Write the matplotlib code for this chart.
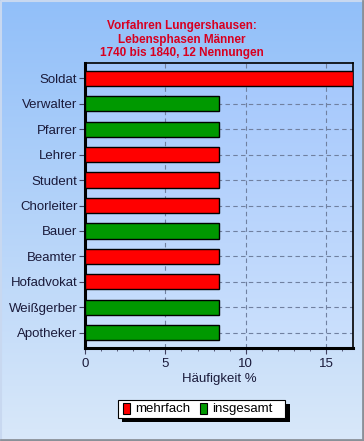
import numpy as np
import matplotlib.pyplot as plt
from matplotlib.patches import Rectangle

# Data
berufe = ['Soldat', 'Verwalter', 'Pfarrer', 'Lehrer', 'Student', 'Chorleiter',
          'Bauer', 'Beamter', 'Hofadvokat', 'Weißgerber', 'Apotheker']
haeufigkeit = [16.67, 8.33, 8.33, 8.33, 8.33, 8.33, 8.33, 8.33, 8.33, 8.33, 8.33]
art = ['mehrfach', 'insgesamt', 'insgesamt', 'mehrfach', 'mehrfach', 'mehrfach',
       'insgesamt', 'mehrfach', 'mehrfach', 'insgesamt', 'insgesamt']
farben = {'mehrfach': '#ff0000', 'insgesamt': '#009900'}

fig = plt.figure(figsize=(3.64, 4.41), dpi=100)

# background gradient over the whole figure
bg = fig.add_axes([0, 0, 1, 1], zorder=-10)
grad = np.linspace(0, 1, 256).reshape(-1, 1)
top = np.array([0.57, 0.75, 0.98])
bot = np.array([0.85, 0.91, 0.98])
img = top + (bot - top) * grad[:, :, None] * np.ones((1, 2, 1))
bg.imshow(img, aspect='auto', extent=[0, 1, 0, 1], origin='upper')
# 3d style border: light top/left, grey bottom/right
bg.plot([0.003, 0.003, 0.997], [0.003, 0.997, 0.997], color='#c8d8f0', lw=1.5,
        transform=bg.transAxes)
bg.plot([0.003, 0.997, 0.997], [0.003, 0.003, 0.997], color='#8a9098', lw=2,
        transform=bg.transAxes)
bg.set_xlim(0, 1)
bg.set_ylim(0, 1)
bg.axis('off')

ax = fig.add_axes([85 / 364, 1 - 348 / 441, (353 - 85) / 364, (348 - 63) / 441])
ax.patch.set_alpha(0)
pgrad = np.linspace(0, 1, 256).reshape(-1, 1)
ptop = np.array([0.64, 0.78, 0.99])
pbot = np.array([0.80, 0.88, 0.99])
pimg = ptop + (pbot - ptop) * pgrad[:, :, None] * np.ones((1, 2, 1))
ax.imshow(pimg, aspect='auto', extent=[0, 16.67, -0.6, len(berufe) - 0.4],
          origin='upper', zorder=0)

y = np.arange(len(berufe))[::-1]
ax.barh(y, haeufigkeit, height=0.6, color=[farben[a] for a in art],
        edgecolor='black', linewidth=1, zorder=3)

ax.set_xlim(0, 16.67)
ax.set_ylim(-0.6, len(berufe) - 0.4)
ax.set_yticks(y)
ax.set_yticklabels(berufe, fontsize=9.5, color='#1a1a3a', fontfamily='Liberation Sans')
ax.set_xticks([0, 5, 10, 15])
ax.set_xticks(np.arange(0, 17, 1), minor=True)
ax.set_xticklabels(['0', '5', '10', '15'], fontsize=9.5, color='#1a1a3a',
                   fontfamily='Liberation Sans')
ax.tick_params(axis='y', length=4, pad=1.5, color='#404060')
ax.tick_params(axis='x', which='major', length=4, color='#404060')
ax.tick_params(axis='x', which='minor', length=2, color='#404060')
ax.grid(True, axis='both', linestyle=(0, (4, 3)), color='#7080a0', linewidth=0.8, zorder=1)
ax.set_axisbelow(True)
for s in ax.spines.values():
    s.set_linewidth(1.2)
ax.spines['left'].set_linewidth(2.2)
ax.spines['bottom'].set_linewidth(2.2)

ax.set_xlabel('Häufigkeit %', fontsize=9.5, color='#1a1a3a', fontfamily='Liberation Sans',
              labelpad=2)

fig.text(0.5, 1 - 39.5 / 441,
         'Vorfahren Lungershausen:\nLebensphasen Männer\n1740 bis 1840, 12 Nennungen',
         ha='center', va='center', fontsize=8.5, fontweight='bold', color='#d80020',
         fontfamily='Liberation Sans', linespacing=1.2)

# legend box with shadow
bg.add_patch(Rectangle((122 / 364, 1 - 422 / 441), 168 / 364, 18 / 441,
                       fc='black', ec='none', transform=bg.transAxes, zorder=5))
bg.add_patch(Rectangle((118 / 364, 1 - 418 / 441), 167 / 364, 18 / 441,
                       fc='white', ec='black', lw=0.8, transform=bg.transAxes, zorder=6))
for xs, lab in [(123, 'mehrfach'), (200, 'insgesamt')]:
    bg.add_patch(Rectangle((xs / 364, 1 - 414 / 441), 7 / 364, 11 / 441,
                           fc=farben[lab], ec='black', lw=0.8, transform=bg.transAxes,
                           zorder=7))
    bg.text((xs + 12) / 364, 1 - 409 / 441, lab, fontsize=9.5, color='black',
            fontfamily='Liberation Sans', va='center', ha='left',
            transform=bg.transAxes, zorder=7)

fig.savefig('out.png', dpi=100)
